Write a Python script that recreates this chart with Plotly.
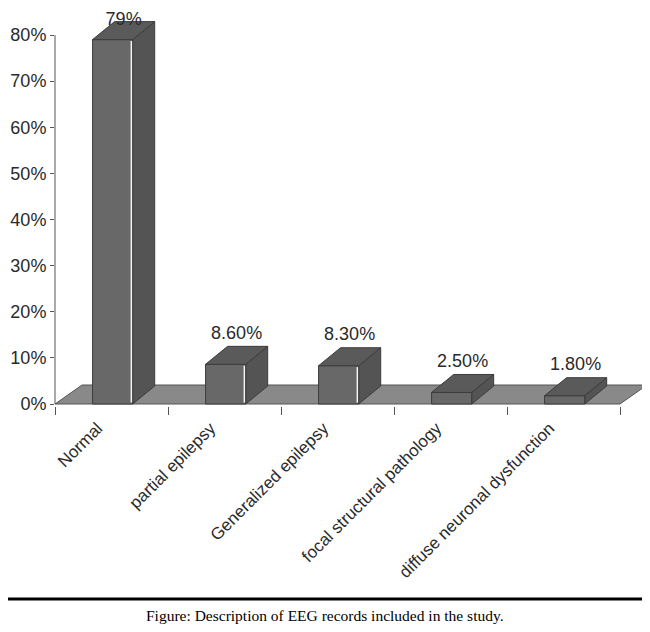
import plotly.graph_objects as go

# ---- data ----
categories = ["Normal", "partial epilepsy", "Generalized epilepsy",
              "focal structural pathology", "diffuse neuronal dysfunction"]
values = [79, 8.6, 8.3, 2.5, 1.8]
value_labels = ["79%", "8.60%", "8.30%", "2.50%", "1.80%"]
y_tickvals = [0, 10, 20, 30, 40, 50, 60, 70, 80]
y_ticktext = ["0%", "10%", "20%", "30%", "40%", "50%", "60%", "70%", "80%"]
caption = "Figure: Description of EEG records included in the study."

# ---- geometry (page pixels; page body has an 8px margin) ----
BODY = 8
PAGE_W, PAGE_H = 650, 632
W, H = PAGE_W - BODY, PAGE_H - BODY
AXIS_LEFT_PAGE = 55          # page x of the value axis
ZERO_PAGE = 404              # page y of 0%
PX_PER_CAT = 113.0
PX_PER_PCT = 4.6125

ML = AXIS_LEFT_PAGE - BODY
MR = 0
MT = 0
plot_bottom_fig = ZERO_PAGE - BODY + 2
MB = H - plot_bottom_fig
plot_w = W - ML - MR
plot_h = H - MT - MB

x_lo = -0.5
x_hi = x_lo + plot_w / PX_PER_CAT
y_lo = -2 / PX_PER_PCT
y_hi = y_lo + plot_h / PX_PER_PCT

FLOOR_DX = 27 / PX_PER_CAT
FLOOR_DY = 19 / PX_PER_PCT
BAR_DX = 22 / PX_PER_CAT
BAR_DY = 18 / PX_PER_PCT
BAR_W = 0.355
BAR_OFF = 0.01
LABEL_GAP = 12 / PX_PER_PCT
LABEL_MAX = (ZERO_PAGE - 20) / PX_PER_PCT

n = len(categories)

FRONT = "#686868"
SIDE = "#545454"
TOP = "#5a5a5a"
EDGE = "#3c3c3c"
FLOOR = "#898989"
FLOOR_EDGE = "#555555"
TEXT = "#2a2a2a"
FONT = "Liberation Sans, Arial, sans-serif"

fig = go.Figure()

# floor
fx = [x_lo, x_lo + n, x_lo + n + FLOOR_DX, x_lo + FLOOR_DX, x_lo]
fy = [0, 0, FLOOR_DY, FLOOR_DY, 0]
fig.add_trace(go.Scatter(x=fx, y=fy, mode="lines", fill="toself",
                         fillcolor=FLOOR, line=dict(color=FLOOR_EDGE, width=1),
                         hoverinfo="skip", showlegend=False))

front_x, front_y, side_x, side_y, top_x, top_y = [], [], [], [], [], []
hl_x, hl_y = [], []
for i, v in enumerate(values):
    x0 = i + BAR_OFF - BAR_W / 2
    x1 = x0 + BAR_W
    front_x += [x0, x1, x1, x0, x0, None]
    front_y += [0, 0, v, v, 0, None]
    side_x += [x1, x1 + BAR_DX, x1 + BAR_DX, x1, x1, None]
    side_y += [0, BAR_DY, v + BAR_DY, v, 0, None]
    top_x += [x0, x1, x1 + BAR_DX, x0 + BAR_DX, x0, None]
    top_y += [v, v, v + BAR_DY, v + BAR_DY, v, None]
    if v > 5:
        hl_x += [x1 - 0.012, x1 - 0.012, None]
        hl_y += [0.3, v - 0.3, None]

for xs, ys, col in [(side_x, side_y, SIDE), (front_x, front_y, FRONT), (top_x, top_y, TOP)]:
    fig.add_trace(go.Scatter(x=xs, y=ys, mode="lines", fill="toself",
                             fillcolor=col, line=dict(color=EDGE, width=1),
                             hoverinfo="skip", showlegend=False))

fig.add_trace(go.Scatter(x=hl_x, y=hl_y, mode="lines",
                         line=dict(color="#f4f4f4", width=1.5),
                         hoverinfo="skip", showlegend=False))

# value labels
fig.add_trace(go.Scatter(
    x=[i + BAR_OFF + BAR_DX / 2 for i in range(n)],
    y=[min(v + BAR_DY + LABEL_GAP, LABEL_MAX) for v in values],
    mode="text", text=value_labels, textposition="middle center",
    textfont=dict(family=FONT, size=18, color=TEXT),
    cliponaxis=False, hoverinfo="skip", showlegend=False))


# page pixel -> paper helpers
def py(p):
    return (MT + plot_h - (p - BODY)) / plot_h


def px(p):
    return (p - BODY - ML) / plot_w


fig.update_layout(
    width=W, height=H,
    margin=dict(l=ML, r=MR, t=MT, b=MB, pad=0),
    paper_bgcolor="white", plot_bgcolor="white",
    showlegend=False,
    xaxis=dict(range=[x_lo, x_hi], tickmode="array",
               tickvals=list(range(n)), ticktext=categories,
               tickangle=-45, ticks="", showgrid=False, zeroline=False,
               showline=False, ticklabelshift=-14, ticklabelstandoff=8,
               tickfont=dict(family=FONT, size=17, color=TEXT),
               minor=dict(tickmode="array",
                          tickvals=[i - 0.5 for i in range(n + 1)],
                          ticks="outside", ticklen=8, tickwidth=1,
                          tickcolor=FLOOR_EDGE, showgrid=False)),
    yaxis=dict(range=[y_lo, y_hi], tickmode="array",
               tickvals=y_tickvals, ticktext=y_ticktext,
               ticks="outside", ticklen=4, tickcolor=FLOOR_EDGE,
               showgrid=False, zeroline=False, showline=False,
               tickfont=dict(family=FONT, size=18, color=TEXT)),
    shapes=[
        dict(type="line", xref="paper", yref="y", x0=0, x1=0,
             y0=0, y1=y_tickvals[-1], line=dict(color=FLOOR_EDGE, width=1)),
        dict(type="line", xref="paper", yref="paper", x0=px(0), x1=px(PAGE_W),
             y0=py(599), y1=py(599), line=dict(color="black", width=3)),
    ],
    annotations=[
        dict(text=caption, xref="paper", yref="paper", x=px(PAGE_W / 2), y=py(615),
             xanchor="center", yanchor="middle", showarrow=False,
             font=dict(family="Liberation Serif, Times New Roman, serif",
                       size=15.5, color="black")),
    ],
)

fig.write_html("out.html")
